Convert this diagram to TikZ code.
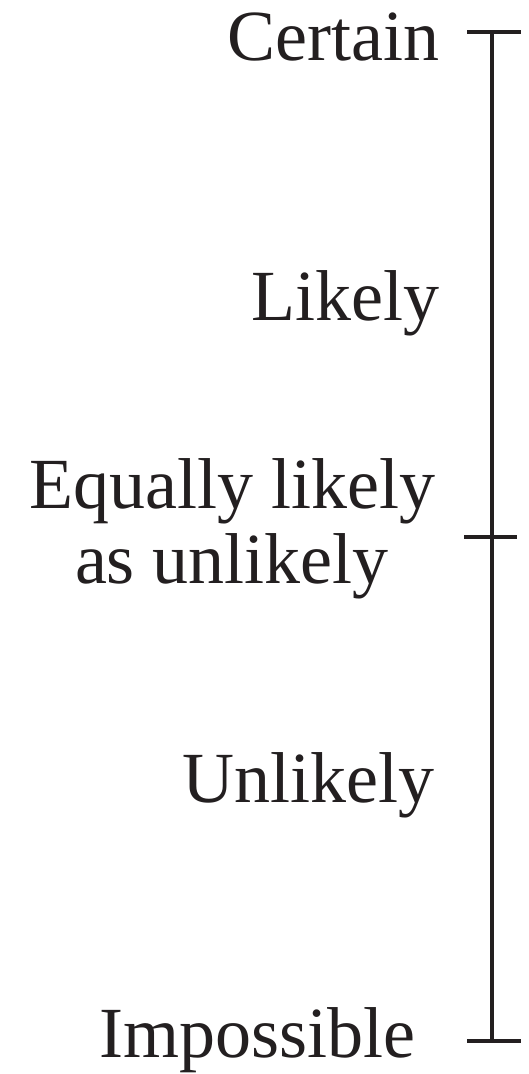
\documentclass[tikz,border=0pt]{standalone}
\usepackage{fontspec}
\setmainfont{Liberation Serif}
\usepackage{xcolor}
\definecolor{inkblack}{RGB}{35,31,32}
\usetikzlibrary{positioning}

\begin{document}
\begin{tikzpicture}[x=1pt, y=-1pt,
  scaletext/.style={font=\fontsize{72}{75}\selectfont, inkblack, inner sep=0pt},
  scaleline/.style={inkblack, line width=4.5pt}]
\useasboundingbox (0,0) rectangle (528,1074);

% ===== SCALE (right) =====
\coordinate (top) at (492,32);
\coordinate (mid) at (492,537);
\coordinate (bot) at (492,1041);
\draw[scaleline] (top) -- (bot);

% Ticks
\draw[scaleline] ([xshift=-25pt]top) -- ([xshift=29pt]top);
\draw[scaleline] ([xshift=-28pt]mid) -- ([xshift=25pt]mid);
\draw[scaleline] ([xshift=-25pt]bot) -- ([xshift=29pt]bot);

% ===== LABELS (left) =====
\node[scaletext, anchor=base east] (certain) at (440,60) {Certain};
\node[scaletext, anchor=base east] (likely) at (440,320) {Likely};
\node[scaletext, align=center, anchor=base] (equal) at (232,583)
      {Equally likely\\as unlikely};
\node[scaletext, anchor=base east] (unlikely) at (435,802) {Unlikely};
\node[scaletext, anchor=base east] (impossible) at (416,1057) {Impossible};

\end{tikzpicture}
\end{document}
